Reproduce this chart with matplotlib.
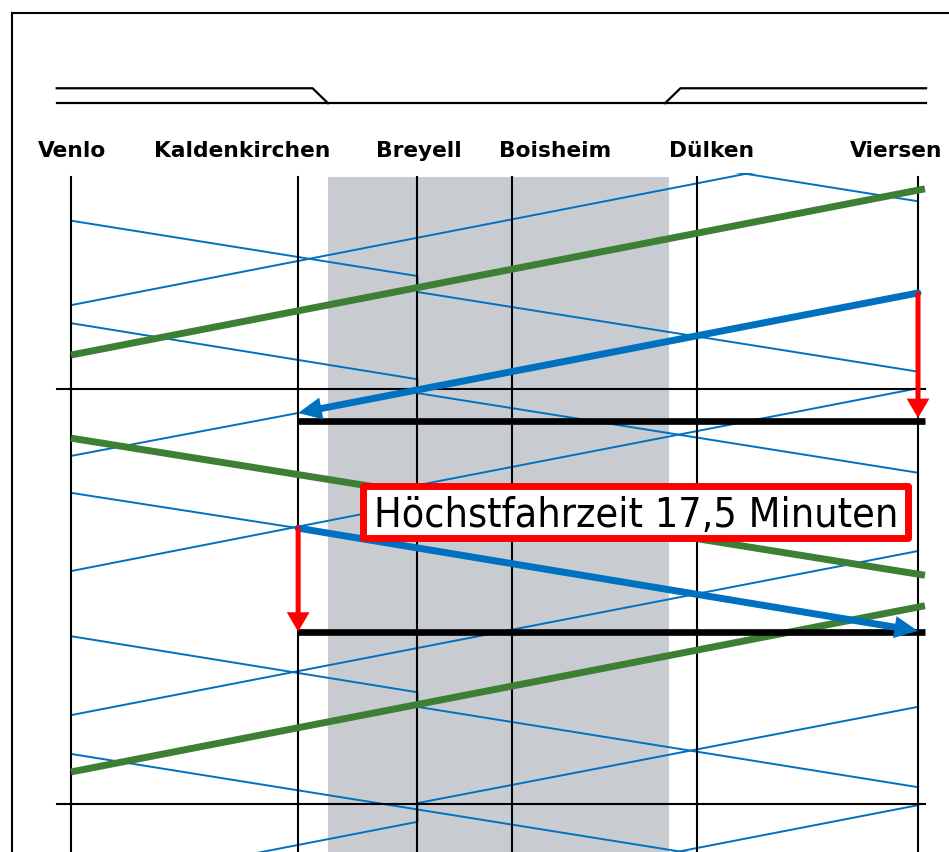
import matplotlib
matplotlib.use("Agg")
import matplotlib.pyplot as plt
from matplotlib.patches import Rectangle

# Stationen (Streckenkilometer ab Venlo)
stations = ["Venlo", "Kaldenkirchen", "Breyell", "Boisheim", "Dülken", "Viersen"]
station_km = [0.0, 5.9, 9.0, 11.45, 16.25, 22.0]
km = dict(zip(stations, station_km))

# eingleisiger Abschnitt (grau hinterlegt), km
single_track = (6.675, 15.53)

# Volle Stunden (Minuten)
hour_marks = [0, 60]

# Züge Richtung Viersen (dünn blau): Halte und Zeiten in Minuten
east_stops = [
    ["Dülken", "Viersen"],
    ["Venlo", "Breyell", "Breyell", "Viersen"],
    ["Venlo", "Breyell", "Breyell", "Viersen"],
    ["Venlo", "Kaldenkirchen"],
    ["Venlo", "Breyell", "Breyell", "Viersen"],
    ["Venlo", "Viersen"],
]
east_times = [
    [-32.2, -27.1],
    [-24.3, -16.3, -14.0, -2.5],
    [-9.5, -1.4, 0.6, 12.1],
    [15.0, 20.1],
    [35.7, 43.8, 45.9, 57.5],
    [52.7, 72.3],
]

# Züge Richtung Venlo (dünn blau)
west_stops = [
    ["Viersen", "Venlo"],
    ["Kaldenkirchen", "Venlo"],
    ["Viersen", "Breyell", "Breyell", "Venlo"],
    ["Viersen", "Venlo"],
    ["Viersen", "Breyell", "Breyell", "Venlo"],
    ["Viersen", "Venlo"],
]
west_times = [
    [-35.9, -12.1],
    [3.47, 9.67],
    [-0.1, 13.9, 16.5, 26.3],
    [23.4, 47.1],
    [45.9, 59.8, 62.5, 72.2],
    [60.1, 83.8],
]

# Grüne Linie (Venlo -> über Viersen hinaus)
green_x = [0.0, 22.18]
green_times = [
    [-4.9, -28.9],
    [7.1, 26.9],
    [55.3, 31.3],
]

# hervorgehobene Fahrten (dick blau)
bold_from = [("Viersen", -13.86), ("Kaldenkirchen", 20.1)]
bold_to = [("Kaldenkirchen", 3.47), ("Viersen", 34.95)]

# Zeitlinien (schwarz dick) und rote Pfeile
limit_lines = [4.58, 35.16]
limit_x = (5.9, 22.18)
red_arrows = [("Viersen", -13.7, 4.2), ("Kaldenkirchen", 20.1, 35.05)]

label_text = "Höchstfahrzeit 17,5 Minuten"

blue = "#0070c0"
green = "#3d7f35"
grey = "#c8ccd0"
red = "#ff0000"

fig = plt.figure(figsize=(9.49, 8.52), dpi=100)
ax = fig.add_axes([0, 0, 1, 0.797])
ax.set_xlim(-1.844, 22.805)
ax.set_ylim(66.86, -31.19)
ax.axis("off")

# Rahmen
ax.plot([-1.532, 23.5], [-54.3, -54.3], color="black", lw=1.5, clip_on=False)
ax.plot([-1.532, -1.532], [-54.3, 70], color="black", lw=1.5, clip_on=False)

# Gleisschema oben
t_up, t_lo = -43.42, -41.26
ax.plot([-0.371, 22.21], [t_lo, t_lo], color="black", lw=1.6, clip_on=False)
ax.plot([-0.371, single_track[0] - 0.4, single_track[0]], [t_up, t_up, t_lo],
        color="black", lw=1.6, clip_on=False)
ax.plot([single_track[1] - 0.1, single_track[1] + 0.3, 22.21], [t_lo, t_up, t_up],
        color="black", lw=1.6, clip_on=False)

# Stationsnamen
label_x = [0.03, 4.434, 9.04, 12.57, 16.65, 21.43]
for name, lx in zip(stations, label_x):
    ax.text(lx, -33.55, name, ha="center", va="baseline", fontsize=15.7,
            fontweight="bold", family="DejaVu Sans", clip_on=False)

# grauer Bereich
ax.fill_betweenx([-30.6, 70], single_track[0], single_track[1], color=grey,
                 lw=0, zorder=0)

# Zugfahrten dünn
for stops, times in zip(east_stops + west_stops, east_times + west_times):
    ax.plot([km[s] for s in stops], times, color=blue, lw=1.4, zorder=2)

# Stationslinien und Stundenlinien
for x in station_km:
    ax.plot([x, x], [-30.6, 70], color="black", lw=1.5, zorder=3)
for h in hour_marks:
    ax.plot([-0.364, 22.18], [h, h], color="black", lw=1.5, zorder=3)

# grüne Linie
for times in green_times:
    ax.plot(green_x, times, color=green, lw=5, solid_capstyle="butt", zorder=4)

# schwarze Grenzlinien
for t in limit_lines:
    ax.plot(limit_x, [t, t], color="black", lw=4.8, solid_capstyle="butt", zorder=5)

# dicke blaue Fahrten mit Pfeil
for (s0, t0), (s1, t1) in zip(bold_from, bold_to):
    ax.annotate("", xy=(km[s1], t1), xytext=(km[s0], t0), zorder=6,
                arrowprops=dict(arrowstyle="-", color=blue, lw=5,
                                shrinkA=0, shrinkB=9))
    ax.annotate("", xy=(km[s1], t1), xytext=(km[s0], t0), zorder=6,
                arrowprops=dict(arrowstyle="-|>,head_length=1.7,head_width=0.8",
                                mutation_scale=10, color=blue, lw=0,
                                shrinkA=0, shrinkB=0))

# rote Pfeile
for s, t0, t1 in red_arrows:
    ax.annotate("", xy=(km[s], t1), xytext=(km[s], t0), zorder=7,
                arrowprops=dict(arrowstyle="-", color=red, lw=3.6,
                                shrinkA=0, shrinkB=8))
    ax.annotate("", xy=(km[s], t1), xytext=(km[s], t0), zorder=7,
                arrowprops=dict(arrowstyle="-|>,head_length=1.4,head_width=0.82",
                                mutation_scale=10, color=red, lw=0,
                                shrinkA=0, shrinkB=0))

# Beschriftung mit rotem Rahmen
ax.add_patch(Rectangle((7.597, 13.94), 21.73 - 7.597, 21.59 - 13.94,
                       facecolor="white", edgecolor=red, lw=5,
                       joinstyle="round", zorder=8))
ax.text(14.675, 19.93, label_text, ha="center", va="baseline", fontsize=29.5,
        fontstretch="condensed", family="DejaVu Sans", zorder=9)

fig.savefig("out.png", dpi=100)
